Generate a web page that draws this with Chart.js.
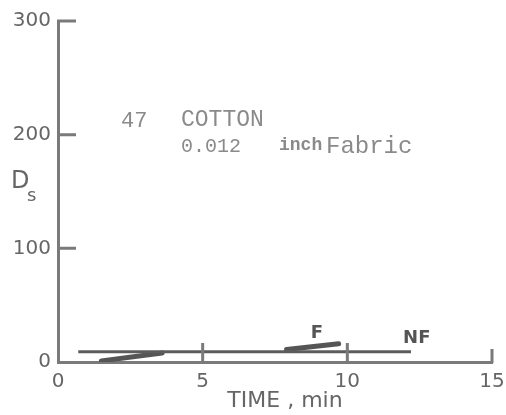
<!DOCTYPE html>
<html>
<head>
<meta charset="utf-8">
<script src="https://cdn.jsdelivr.net/npm/chart.js@4/dist/chart.umd.min.js"></script>
<style>
  html, body { margin: 0; padding: 0; background: #fff; }
  #wrap { width: 506px; height: 415px; }
</style>
</head>
<body>
<div id="wrap"><canvas id="dsChart" width="506" height="415"></canvas></div>
<script>
// time (min) and specific optical density for each trace
const timeNF = [0.7, 12.2];
const dsNF = [9, 9];
const timeF = [7.9, 9.7];
const dsF = [11, 16];
const timeEarly = [1.5, 3.6];
const dsEarly = [1, 8];

const xTicks = [0, 5, 10, 15];
const yTicks = [0, 100, 200, 300];

const ink = "#666";
const axisInk = "#7a7a7a";
const sans = "'DejaVu Sans', sans-serif";
const mono = "'Liberation Mono', monospace";

function points(xs, ys) {
    return xs.map((x, i) => ({ x: x, y: ys[i] }));
}

// inward ticks, axis labels and the notes inside the plot
const decorations = {
    id: "decorations",
    afterDraw(chart) {
        const ctx = chart.ctx;
        const xs = chart.scales.x;
        const ys = chart.scales.y;
        const y0 = ys.getPixelForValue(0);
        const x0 = xs.getPixelForValue(0);

        ctx.save();
        ctx.strokeStyle = axisInk;
        ctx.lineWidth = 3;
        ctx.beginPath();
        xTicks.slice(1).forEach(t => {
            const px = xs.getPixelForValue(t);
            const len = t === 15 ? 13 : 19;
            ctx.moveTo(px, y0 + 1);
            ctx.lineTo(px, y0 - len);
        });
        yTicks.slice(1).forEach(t => {
            const py = ys.getPixelForValue(t);
            ctx.moveTo(x0 - 1, py);
            ctx.lineTo(x0 + 18, py);
        });
        ctx.stroke();

        ctx.fillStyle = ink;
        ctx.textBaseline = "middle";
        ctx.textAlign = "left";

        // y axis title with subscript
        ctx.font = "24px " + sans;
        ctx.fillText("D", 11, 182);
        ctx.font = "18px " + sans;
        ctx.fillText("s", 27, 196);

        // x axis title
        ctx.font = "22px " + sans;
        ctx.textAlign = "center";
        ctx.fillText("TIME , min", 285, 401);

        // trace labels
        ctx.font = "bold 18px " + sans;
        ctx.fillStyle = "#555";
        ctx.fillText("F", xs.getPixelForValue(8.95), ys.getPixelForValue(25));
        ctx.fillText("NF", xs.getPixelForValue(12.4), ys.getPixelForValue(21));

        // sample notes
        ctx.textAlign = "left";
        ctx.fillStyle = "#8a8a8a";
        ctx.font = "22px " + mono;
        ctx.fillText("47", 121, 121);
        ctx.font = "23px " + mono;
        ctx.fillText("COTTON", 181, 120);
        ctx.font = "20px " + mono;
        ctx.fillText("0.012", 181, 147);
        ctx.font = "bold 18px " + mono;
        ctx.fillText("inch", 279, 145);
        ctx.font = "24px " + mono;
        ctx.fillText("Fabric", 326, 147);
        ctx.restore();
    }
};

new Chart(document.getElementById("dsChart").getContext("2d"), {
    type: "line",
    data: {
        datasets: [
            {
                label: "NF",
                data: points(timeNF, dsNF),
                borderColor: "#5c5c5c",
                borderWidth: 3,
                pointRadius: 0
            },
            {
                label: "F",
                data: points(timeF, dsF),
                borderColor: "#555",
                borderWidth: 5,
                borderCapStyle: "round",
                pointRadius: 0
            },
            {
                label: "F early",
                data: points(timeEarly, dsEarly),
                borderColor: "#555",
                borderWidth: 5,
                borderCapStyle: "round",
                pointRadius: 0
            }
        ]
    },
    options: {
        responsive: false,
        animation: false,
        layout: { padding: { top: 21, right: 14, left: 0, bottom: 0 } },
        plugins: {
            legend: { display: false },
            tooltip: { enabled: false }
        },
        scales: {
            x: {
                type: "linear",
                min: 0,
                max: 15,
                afterBuildTicks: scale => { scale.ticks = xTicks.map(v => ({ value: v })); },
                afterFit: scale => {
                    scale.height = 53;
                    scale.paddingLeft = 0;
                    scale.paddingRight = 0;
                },
                grid: { display: false, drawTicks: false },
                border: { display: true, color: axisInk, width: 3 },
                ticks: {
                    color: ink,
                    padding: 8,
                    maxRotation: 0,
                    font: { family: "DejaVu Sans", size: 20 }
                }
            },
            y: {
                type: "linear",
                min: 0,
                max: 300,
                afterBuildTicks: scale => { scale.ticks = yTicks.map(v => ({ value: v })); },
                afterFit: scale => {
                    scale.width = 58;
                    scale.paddingTop = 0;
                    scale.paddingBottom = 0;
                },
                grid: { display: false, drawTicks: false },
                border: { display: true, color: axisInk, width: 3 },
                ticks: {
                    color: ink,
                    padding: 7,
                    font: { family: "DejaVu Sans", size: 20 }
                }
            }
        }
    },
    plugins: [decorations]
});
</script>
</body>
</html>
